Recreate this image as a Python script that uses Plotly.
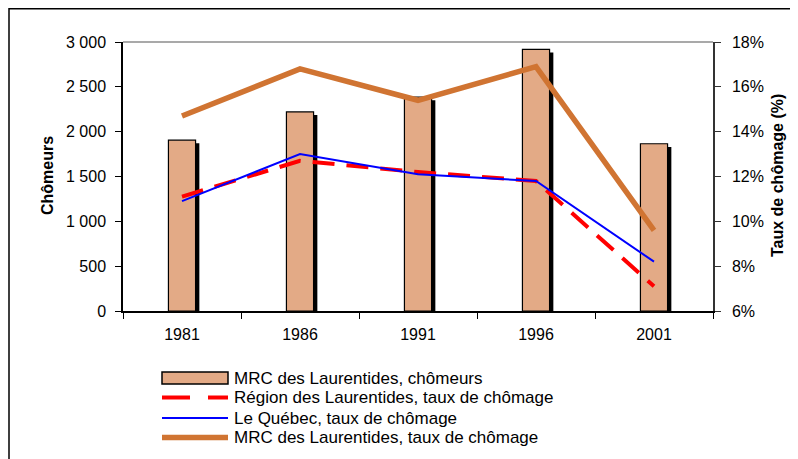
import plotly.graph_objects as go

# data
annees = ["1981", "1986", "1991", "1996", "2001"]
chomeurs_mrc = [1905, 2220, 2385, 2918, 1865]
taux_region = [11.1, 12.7, 12.2, 11.8, 7.1]
taux_quebec = [10.9, 13.0, 12.1, 11.8, 8.2]
taux_mrc = [14.7, 16.8, 15.4, 16.9, 9.6]

noms = ["MRC des Laurentides, chômeurs",
        "Région des Laurentides, taux de chômage",
        "Le Québec, taux de chômage",
        "MRC des Laurentides, taux de chômage"]

# the page body adds an 8px margin, so work in screen pixels and shift
OFF = 8
W, H = 798 - OFF, 459 - OFF
L, R, T, B = 123, 713, 42, 311   # plot area, screen pixels

BAR = "#E3AA86"
ORANGE = "#D07432"
FONT = "Liberation Sans, Arial, sans-serif"


def px(x):
    return (x - L) / (R - L)


def py(y):
    return (B - y) / (B - T)


fig = go.Figure()

# shadow behind each bar (Excel style)
fig.add_trace(go.Bar(
    x=annees, y=[v - 35 for v in chomeurs_mrc],
    width=0.23, offset=-0.115 + 0.032,
    marker=dict(color="black", line=dict(width=0)),
    hoverinfo="skip", showlegend=False))
fig.add_trace(go.Bar(
    x=annees, y=chomeurs_mrc, name=noms[0],
    width=0.23, offset=-0.115,
    marker=dict(color=BAR, line=dict(color="black", width=1.2)),
    showlegend=False))

fig.add_trace(go.Scatter(
    x=annees, y=taux_region, yaxis="y2", mode="lines", name=noms[1],
    line=dict(color="#FF0000", width=4, dash="22px,12px"), showlegend=False))
fig.add_trace(go.Scatter(
    x=annees, y=taux_quebec, yaxis="y2", mode="lines", name=noms[2],
    line=dict(color="#0000FF", width=2), showlegend=False))
fig.add_trace(go.Scatter(
    x=annees, y=taux_mrc, yaxis="y2", mode="lines", name=noms[3],
    line=dict(color=ORANGE, width=5.5), showlegend=False))

shapes = [
    # outer frame (only top and left edges visible)
    dict(type="rect", xref="paper", yref="paper",
         x0=px(9), x1=px(830), y0=py(OFF + 0.8), y1=py(500),
         line=dict(color="black", width=1.5)),
    # top line of plot area
    dict(type="line", xref="paper", yref="paper",
         x0=0, x1=1, y0=1, y1=1, line=dict(color="#8C8C8C", width=1.5)),
]

# hand-drawn legend to get Excel's long symbols
rows = [378, 397.5, 418, 437.5]
sx0, sx1 = 162, 228
shapes.append(dict(type="rect", xref="paper", yref="paper",
                   x0=px(sx0), x1=px(sx1), y0=py(rows[0] - 6), y1=py(rows[0] + 6),
                   fillcolor=BAR, line=dict(color="black", width=1.5)))
shapes.append(dict(type="line", xref="paper", yref="paper",
                   x0=px(sx0), x1=px(sx1), y0=py(rows[1]), y1=py(rows[1]),
                   line=dict(color="#FF0000", width=4, dash="28px,18px")))
shapes.append(dict(type="line", xref="paper", yref="paper",
                   x0=px(sx0), x1=px(sx1), y0=py(rows[2]), y1=py(rows[2]),
                   line=dict(color="#0000FF", width=2)))
shapes.append(dict(type="line", xref="paper", yref="paper",
                   x0=px(sx0), x1=px(sx1), y0=py(rows[3]), y1=py(rows[3]),
                   line=dict(color=ORANGE, width=5.5)))

annotations = []
for nom, y in zip(noms, rows):
    annotations.append(dict(
        text=nom, xref="paper", yref="paper", x=px(232), y=py(y),
        xanchor="left", yanchor="middle", showarrow=False,
        font=dict(family=FONT, size=17, color="black")))

annotations.append(dict(
    text="<b>Chômeurs</b>", xref="paper", yref="paper", x=px(47), y=py(176),
    xanchor="center", yanchor="middle", textangle=-90, showarrow=False,
    font=dict(family=FONT, size=16, color="black")))
annotations.append(dict(
    text="<b>Taux de chômage (%)</b>", xref="paper", yref="paper", x=px(777), y=py(176),
    xanchor="center", yanchor="middle", textangle=-90, showarrow=False,
    font=dict(family=FONT, size=16, color="black")))

fig.update_layout(
    width=W, height=H,
    margin=dict(l=L - OFF, r=W - (R - OFF), t=T - OFF, b=H - (B - OFF), pad=0),
    paper_bgcolor="white", plot_bgcolor="white",
    barmode="overlay", separators=", ",
    font=dict(family=FONT, size=16, color="black"),
    xaxis=dict(type="category", range=[-0.5, 4.5], showline=True,
               linecolor="black", linewidth=1.5, ticks="outside",
               tickson="boundaries", ticklen=6, tickcolor="black",
               showgrid=False, zeroline=False, ticklabelstandoff=8),
    yaxis=dict(range=[0, 3000], dtick=500, tickformat=",", showline=True,
               linecolor="black", linewidth=1.5, ticks="outside", ticklen=6,
               tickcolor="black", showgrid=False, zeroline=False,
               ticklabelstandoff=6),
    yaxis2=dict(range=[6, 18], dtick=2, ticksuffix="%", overlaying="y",
                side="right", showline=True, linecolor="#333333", linewidth=1.5,
                ticks="outside", ticklen=6, tickcolor="#333333",
                showgrid=False, zeroline=False, ticklabelstandoff=8),
    shapes=shapes, annotations=annotations,
)

fig.write_html("out.html")
